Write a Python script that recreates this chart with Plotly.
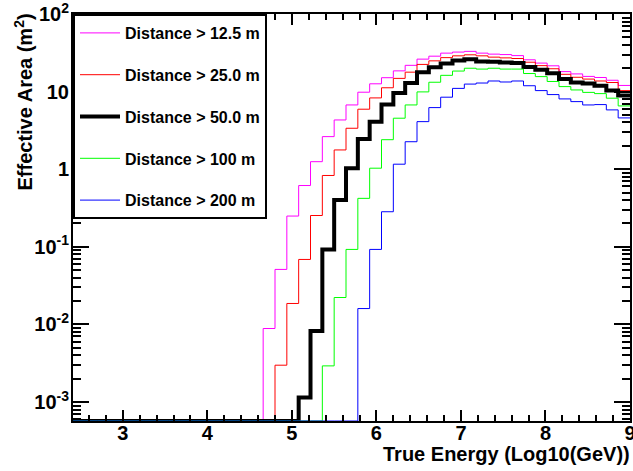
import numpy as np
import plotly.graph_objects as go

# Histogram binning (True Energy, log10 GeV)
bin_lo = 2.0
bin_w = 0.14
n_bins = 50

labels = ["Distance > 12.5 m", "Distance > 25.0 m", "Distance > 50.0 m",
          "Distance > 100 m", "Distance > 200 m"]

# Effective area (m^2) per bin; empty bins are 0
area_12p5 = [0.0] * 19 + [0.00885, 0.0511, 0.249, 0.616, 1.25, 2.63, 4.31, 6.73, 9.82, 12.6,
                          15.1, 18.5, 21.8, 26.2, 28.6, 31.3, 32.3, 33.0, 31.3, 30.4,
                          30.0, 29.1, 25.7, 23.3, 21.5, 18.1, 16.9, 15.7, 15.2, 14.0, 12.0]
area_25 = [0.0] * 20 + [0.00298, 0.0186, 0.0687, 0.253, 0.830, 1.77, 3.37, 5.93, 8.29, 11.2,
                        14.8, 17.8, 22.4, 24.9, 27.4, 28.9, 29.8, 28.9, 27.8, 27.2,
                        26.7, 23.9, 21.6, 19.7, 16.7, 15.3, 14.5, 13.7, 13.1, 10.3]
area_50 = [0.0] * 22 + [0.00114, 0.00824, 0.0925, 0.401, 1.03, 2.45, 4.10, 6.84, 9.62, 12.9,
                        17.7, 20.6, 23.0, 25.1, 26.2, 24.4, 24.2, 23.8, 23.3, 20.8,
                        19.1, 17.3, 14.5, 13.1, 12.7, 11.9, 10.3, 8.93]
area_100 = [0.0] * 24 + [0.00292, 0.0222, 0.0925, 0.421, 1.03, 2.40, 4.54, 6.73, 9.91, 13.2,
                         16.2, 18.4, 20.0, 19.5, 20.0, 19.5, 19.5, 17.1, 15.6, 13.5,
                         11.6, 10.5, 9.77, 9.42, 8.22, 6.54]
area_200 = [0.0] * 27 + [0.0160, 0.0925, 0.283, 1.16, 2.26, 4.10, 6.22, 8.47, 11.0, 12.5,
                         12.9, 13.7, 13.3, 13.7, 11.9, 10.3, 9.15, 8.05, 7.43, 6.73,
                         6.80, 5.81, 4.58]

series = [area_12p5, area_25, area_50, area_100, area_200]
colors = ["#ff00ff", "#ff0000", "#000000", "#00ff00", "#0000ff"]
widths = [1, 1, 4, 1, 1]

x_tick_vals = [3, 4, 5, 6, 7, 8, 9]
y_tick_vals = [1e-3, 1e-2, 1e-1, 1, 10, 100]
y_tick_text = ["10<sup>-3</sup>", "10<sup>-2</sup>", "10<sup>-1</sup>", "1", "10", "10<sup>2</sup>"]

x_range = [2.41, 9.0]
y_log_range = [-3.245, 2.0]
y_floor = 10 ** y_log_range[0]

edges = bin_lo + bin_w * np.arange(n_bins + 1)

FONT = "Liberation Sans, Arial, sans-serif"

fig = go.Figure()
for vals, lab, col, w in zip(series, labels, colors, widths):
    v = [val if val > 0 else y_floor for val in vals]
    fig.add_trace(go.Scatter(
        x=edges, y=v + [v[-1]], mode="lines", line=dict(shape="hv", color=col, width=w),
        name=lab, legendgroup=lab))

fig.update_layout(
    width=633, height=471,
    margin=dict(l=73, r=3, t=14, b=50, autoexpand=False),
    plot_bgcolor="white", paper_bgcolor="white",
    font=dict(family=FONT, size=20, color="black", weight="bold"),
    showlegend=True,
    legend=dict(x=0, y=1, xanchor="left", yanchor="top", bgcolor="white",
                bordercolor="black", borderwidth=2, tracegroupgap=18,
                itemwidth=40, entrywidth=160, entrywidthmode="pixels",
                font=dict(family=FONT, size=16, weight="bold")),
    xaxis=dict(range=x_range, tickmode="array", tickvals=x_tick_vals, automargin=False,
               ticks="inside", ticklen=11, tickwidth=2, tickcolor="black",
               ticklabeloverflow="allow", ticklabelstandoff=-7,
               showline=True, linewidth=2, linecolor="black", mirror="ticks",
               showgrid=False, zeroline=False,
               minor=dict(dtick=0.2, ticks="inside", ticklen=6, tickwidth=2, tickcolor="black", showgrid=False),
               tickfont=dict(family=FONT, size=20, weight="bold")),
    yaxis=dict(type="log", range=y_log_range, tickmode="array", tickvals=y_tick_vals,
               ticktext=y_tick_text, automargin=False,
               ticklabeloverflow="allow", ticklabelstandoff=-2,
               ticks="inside", ticklen=16, tickwidth=2, tickcolor="black",
               showline=True, linewidth=2, linecolor="black", mirror="ticks",
               showgrid=False, zeroline=False,
               minor=dict(dtick="D1", ticks="inside", ticklen=8, tickwidth=2, tickcolor="black", showgrid=False),
               tickfont=dict(family=FONT, size=20, weight="bold")),
)

fig.add_annotation(text="True Energy (Log10(GeV))", xref="paper", yref="paper",
                   x=1, y=0, xanchor="right", yanchor="top", yshift=-20, xshift=2, showarrow=False,
                   font=dict(family=FONT, size=20, weight="bold"))
fig.add_annotation(text="Effective Area (m<sup>2</sup>)", xref="paper", yref="paper",
                   x=0, y=1, xanchor="center", yanchor="top", xshift=-50, yshift=2,
                   textangle=-90, showarrow=False,
                   font=dict(family=FONT, size=20, weight="bold"))

# remove the page's default body margin so the figure fills the window exactly
fig.write_html("out.html", config={"displayModeBar": False},
               post_script="document.body.style.margin='0px';")
